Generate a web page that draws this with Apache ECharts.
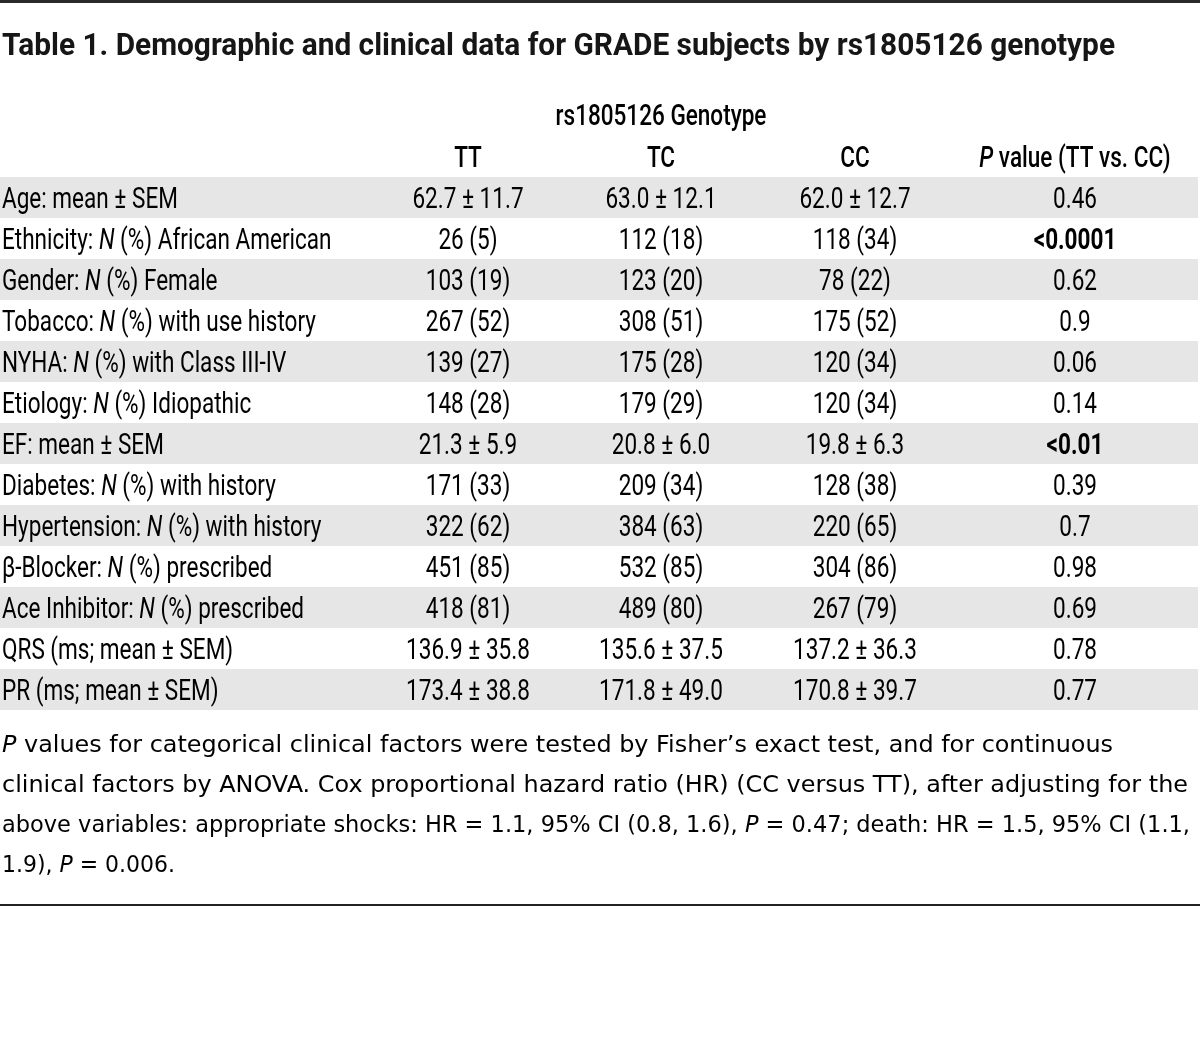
<!DOCTYPE html>
<html>
<head>
<meta charset="utf-8">
<script src="https://cdn.jsdelivr.net/npm/echarts@6/dist/echarts.min.js"></script>
<style>
html,body{margin:0;padding:0;background:#fff;}
#chart{width:1200px;height:1050px;}
</style>
</head>
<body>
<div id="chart"></div>
<script>
// ---------- data ----------
const titleText = 'Table 1. Demographic and clinical data for GRADE subjects by rs1805126 genotype';
const groupHeader = 'rs1805126 Genotype';
const columnHeaders = ['TT', 'TC', 'CC', '*P* value (TT vs. CC)'];
const rowLabels = [
  'Age: mean ± SEM',
  'Ethnicity: *N* (%) African American',
  'Gender: *N* (%) Female',
  'Tobacco: *N* (%) with use history',
  'NYHA: *N* (%) with Class III-IV',
  'Etiology: *N* (%) Idiopathic',
  'EF: mean ± SEM',
  'Diabetes: *N* (%) with history',
  'Hypertension: *N* (%) with history',
  'β-Blocker: *N* (%) prescribed',
  'Ace Inhibitor: *N* (%) prescribed',
  'QRS (ms; mean ± SEM)',
  'PR (ms; mean ± SEM)'
];
const ttValues = ['62.7 ± 11.7','26 (5)','103 (19)','267 (52)','139 (27)','148 (28)','21.3 ± 5.9','171 (33)','322 (62)','451 (85)','418 (81)','136.9 ± 35.8','173.4 ± 38.8'];
const tcValues = ['63.0 ± 12.1','112 (18)','123 (20)','308 (51)','175 (28)','179 (29)','20.8 ± 6.0','209 (34)','384 (63)','532 (85)','489 (80)','135.6 ± 37.5','171.8 ± 49.0'];
const ccValues = ['62.0 ± 12.7','118 (34)','78 (22)','175 (52)','120 (34)','120 (34)','19.8 ± 6.3','128 (38)','220 (65)','304 (86)','267 (79)','137.2 ± 36.3','170.8 ± 39.7'];
const pValues = ['0.46','<0.0001','0.62','0.9','0.06','0.14','<0.01','0.39','0.7','0.98','0.69','0.78','0.77'];
const significantP = ['<0.0001', '<0.01'];
const footnoteLines = [
  '*P* values for categorical clinical factors were tested by Fisher’s exact test, and for continuous',
  'clinical factors by ANOVA. Cox proportional hazard ratio (HR) (CC versus TT), after adjusting for the',
  'above variables: appropriate shocks: HR = 1.1, 95% CI (0.8, 1.6), *P* = 0.47; death: HR = 1.5, 95% CI (1.1,',
  '1.9), *P* = 0.006.'
];

// ---------- layout / style ----------
const FONT = 'Roboto, "Noto Sans", sans-serif';
const FOOT_FONT = '"DejaVu Sans", "Noto Sans", sans-serif';
const FS = 29, TITLE_FS = 31, FOOT_FS = 23;
const INK = '#161616';
const colX = { label: 2, TT: 468, TC: 661, CC: 855, P: 1075 };
const tableTop = 177, rowH = 41;
const footLineWidths = [1111, 1186, 1188, 173];   // rendered widths of the wrapped footnote lines

// horizontal compression so the sans fonts take the width of the condensed original
const mctx = document.createElement('canvas').getContext('2d');
function textW(t, font) { mctx.font = font; return mctx.measureText(t.replace(/\*/g, '')).width; }
const bodyScale = 330 / textW(rowLabels[1], FS + 'px ' + FONT);
const titleScale = 1113 / textW(titleText, 'bold ' + TITLE_FS + 'px ' + FONT);

function toRich(s, n, it) {
  return s.split('*').map((p, i) => p === '' ? '' : '{' + (i % 2 ? it : n) + '|' + p.replace(/[{}|]/g, '') + '}').join('');
}

const richBody = {
  n: { fontFamily: FONT, fontSize: FS, color: INK },
  i: { fontFamily: FONT, fontSize: FS, fontStyle: 'italic', color: INK },
  b: { fontFamily: FONT, fontSize: FS, fontWeight: 'bold', color: INK },
  h: { fontFamily: FONT, fontSize: FS, fontWeight: 500, color: INK },
  hi: { fontFamily: FONT, fontSize: FS, fontWeight: 500, fontStyle: 'italic', color: INK }
};

const columns = [
  { key: 'label', values: rowLabels, align: 'left', fmt: t => toRich(t, 'n', 'i') },
  { key: 'TT', values: ttValues, align: 'center', fmt: t => toRich(t, 'n', 'i') },
  { key: 'TC', values: tcValues, align: 'center', fmt: t => toRich(t, 'n', 'i') },
  { key: 'CC', values: ccValues, align: 'center', fmt: t => toRich(t, 'n', 'i') },
  { key: 'P', values: pValues, align: 'center', fmt: t => significantP.includes(t) ? '{b|' + t + '}' : '{n|' + t + '}' }
];

const chart = echarts.init(document.getElementById('chart'), null, { renderer: 'canvas' });

const option = {
  backgroundColor: '#ffffff',
  animation: false,
  grid: { left: 0, width: 1198, top: tableTop, height: rowH * rowLabels.length, containLabel: false },
  xAxis: { type: 'value', min: 0, max: 1198, show: false },
  yAxis: {
    type: 'category',
    data: rowLabels,
    inverse: true,
    axisLine: { show: false },
    axisTick: { show: false },
    axisLabel: { show: false },
    splitLine: { show: false },
    splitArea: { show: true, areaStyle: { color: ['#e6e6e6', '#ffffff'] } }
  },
  series: [{
    type: 'custom',
    silent: true,
    data: rowLabels.map((r, i) => [0, i]),
    renderItem: function (params, api) {
      const i = api.value(1);
      return {
        type: 'group',
        children: columns.map(c => {
          const pt = api.coord([colX[c.key], i]);
          return {
            type: 'text',
            x: pt[0], y: pt[1] + 3,
            scaleX: bodyScale,
            style: {
              text: c.fmt(c.values[i]),
              rich: richBody,
              align: c.align,
              verticalAlign: 'middle'
            }
          };
        })
      };
    }
  }],
  graphic: [
    { type: 'rect', shape: { x: 0, y: 0, width: 1200, height: 3 }, style: { fill: '#2a2a2a' }, silent: true },
    { type: 'text', x: 2, y: 47, scaleX: titleScale,
      style: { text: titleText, font: 'bold ' + TITLE_FS + 'px ' + FONT, fill: INK, textVerticalAlign: 'middle' } },
    { type: 'text', x: colX.TC, y: 118, scaleX: bodyScale,
      style: { text: '{h|' + groupHeader + '}', rich: richBody, textAlign: 'center', textVerticalAlign: 'middle' } },
    ...['TT', 'TC', 'CC', 'P'].map((k, i) => ({
      type: 'text', x: colX[k], y: 160, scaleX: bodyScale,
      style: { text: toRich(columnHeaders[i], 'h', 'hi'), rich: richBody, textAlign: 'center', textVerticalAlign: 'middle' }
    })),
    ...footnoteLines.map((l, i) => ({
      type: 'text', x: 2, y: 746 + i * 40,
      scaleX: footLineWidths[i] / textW(l, FOOT_FS + 'px ' + FOOT_FONT),
      style: {
        text: toRich(l, 'f', 'fi'),
        textVerticalAlign: 'middle',
        rich: {
          f: { fontFamily: FOOT_FONT, fontSize: FOOT_FS, color: INK },
          fi: { fontFamily: FOOT_FONT, fontSize: FOOT_FS, fontStyle: 'italic', color: INK }
        }
      }
    })),
    { type: 'rect', shape: { x: 0, y: 904, width: 1200, height: 2 }, style: { fill: '#222' }, silent: true }
  ]
};
chart.setOption(option);
</script>
</body>
</html>
